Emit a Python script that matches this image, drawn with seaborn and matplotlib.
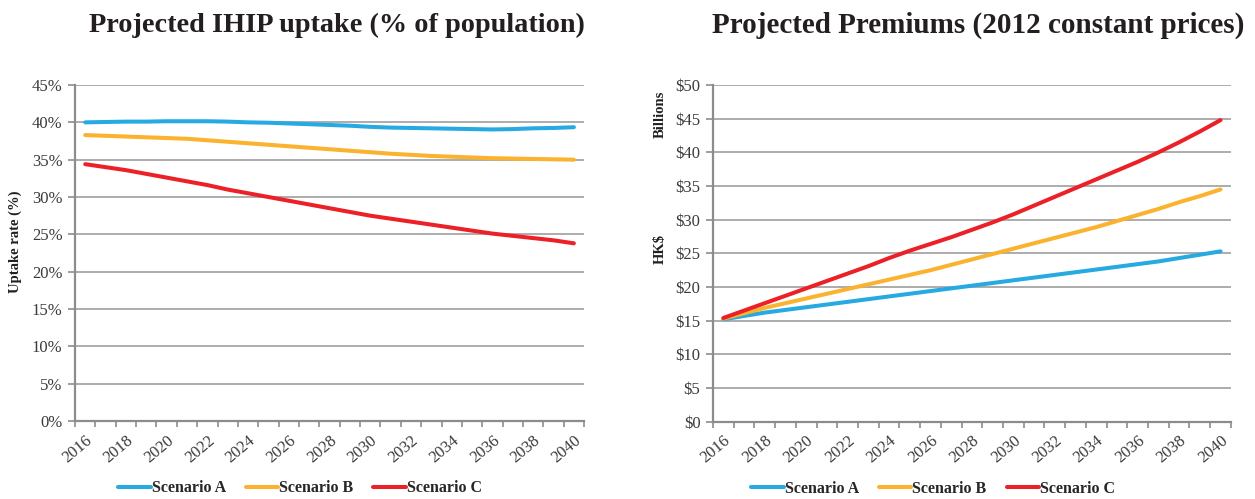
import numpy as np
import pandas as pd
import matplotlib
matplotlib.use("Agg")
import matplotlib.pyplot as plt
from matplotlib.ticker import FuncFormatter, FixedLocator
import seaborn as sns

years = list(range(2016, 2041))
scenarios = ["Scenario A", "Scenario B", "Scenario C"]

# IHIP uptake, % of population
uptake_a = [40.0, 40.05, 40.1, 40.1, 40.15, 40.15, 40.15, 40.1, 40.0, 39.95, 39.85, 39.75, 39.65,
            39.55, 39.4, 39.3, 39.25, 39.2, 39.15, 39.1, 39.05, 39.1, 39.2, 39.25, 39.35]
uptake_b = [38.3, 38.2, 38.1, 38.0, 37.9, 37.8, 37.6, 37.4, 37.2, 37.0, 36.8, 36.6, 36.4,
            36.2, 36.0, 35.8, 35.65, 35.5, 35.4, 35.3, 35.2, 35.15, 35.1, 35.05, 35.0]
uptake_c = [34.4, 34.0, 33.6, 33.1, 32.6, 32.1, 31.6, 31.0, 30.5, 30.0, 29.5, 29.0, 28.5,
            28.0, 27.5, 27.1, 26.7, 26.3, 25.9, 25.5, 25.1, 24.8, 24.5, 24.2, 23.8]

# Premiums, HK$ billions (2012 constant prices)
prem_a = [15.2, 15.7, 16.2, 16.6, 17.0, 17.4, 17.8, 18.2, 18.6, 19.0, 19.4, 19.8, 20.2,
          20.6, 21.0, 21.4, 21.8, 22.2, 22.6, 23.0, 23.4, 23.8, 24.3, 24.8, 25.3]
prem_b = [15.3, 16.1, 16.9, 17.6, 18.3, 19.0, 19.7, 20.4, 21.1, 21.8, 22.5, 23.3, 24.1,
          24.9, 25.7, 26.5, 27.3, 28.1, 28.9, 29.8, 30.7, 31.6, 32.6, 33.5, 34.5]
prem_c = [15.4, 16.5, 17.6, 18.7, 19.8, 20.9, 22.0, 23.1, 24.3, 25.4, 26.4, 27.4, 28.5,
          29.6, 30.8, 32.1, 33.4, 34.7, 36.0, 37.3, 38.6, 40.0, 41.5, 43.1, 44.8]

year_labels = [str(y) for y in years[::2]]
palette = {"Scenario A": "#26AAE1", "Scenario B": "#FBB22E", "Scenario C": "#EC2027"}


def to_long(series):
    frames = [pd.DataFrame({"year": years, "value": vals, "scenario": name})
              for name, vals in zip(scenarios, series)]
    return pd.concat(frames, ignore_index=True)


uptake_df = to_long([uptake_a, uptake_b, uptake_c])
prem_df = to_long([prem_a, prem_b, prem_c])

sns.set_theme(style="white")
plt.rcParams["font.family"] = ["Liberation Serif", "DejaVu Serif"]

fig = plt.figure(figsize=(12.55, 4.99), dpi=100)
ax1 = fig.add_axes([0.0598, 0.1563, 0.4056, 0.6733])
ax2 = fig.add_axes([0.5681, 0.1550, 0.4127, 0.6745])

grid_col = "#a6a6a6"
axis_col = "#8c8c8c"
text_col = "#3a3a3a"


def style_axis(ax, df, ymax, ystep, fmt, title, title_size, title_x, legend_x):
    sns.lineplot(data=df, x="year", y="value", hue="scenario", palette=palette,
                 linewidth=2.9, ax=ax, legend=True, estimator=None)
    ax.set_xlim(2015.5, 2040.5)
    ax.set_ylim(0, ymax)
    ax.set_yticks(np.arange(0, ymax + ystep / 2, ystep))
    ax.yaxis.set_major_formatter(FuncFormatter(fmt))
    ax.grid(axis="y", color=grid_col, linewidth=1.3)
    ax.set_axisbelow(True)
    for side in ("top", "right"):
        ax.spines[side].set_visible(False)
    for side in ("left", "bottom"):
        ax.spines[side].set_color(axis_col)
        ax.spines[side].set_linewidth(1.6)
    ax.xaxis.set_major_locator(FixedLocator(years[::2]))
    ax.set_xticklabels(year_labels, rotation=40, ha="right", va="top",
                       rotation_mode="anchor", fontsize=12, color=text_col)
    ax.xaxis.set_minor_locator(FixedLocator(np.arange(2015.5, 2041, 1.0)))
    ax.tick_params(axis="x", which="major", length=0, pad=8)
    ax.tick_params(axis="x", which="minor", length=4, width=1.2, color=axis_col,
                   direction="out", bottom=True)
    ax.tick_params(axis="y", length=5, width=1.2, color=axis_col, direction="out",
                   left=True, labelsize=12, labelcolor=text_col, pad=4)
    ax.set_xlabel("")
    ax.set_ylabel("")
    handles, labels = ax.get_legend_handles_labels()
    ax.legend(handles, labels, loc="center", bbox_to_anchor=(legend_x, -0.2),
              ncol=3, frameon=False, handlelength=2.05, handletextpad=0.05,
              columnspacing=1.25, prop={"weight": "bold", "size": 11.5})
    ax.set_title(title, fontsize=title_size, fontweight="bold", color="#231f20",
                 pad=38, x=title_x)


style_axis(ax1, uptake_df, 45, 5, lambda v, p: f"{v:.0f}%",
           "Projected IHIP uptake (% of population)", 20.3, 0.515, 0.442)
style_axis(ax2, prem_df, 50, 5, lambda v, p: f"${v:.0f}",
           "Projected Premiums (2012 constant prices)", 21, 0.513, 0.425)

fig.text(0.012, 0.515, "Uptake rate (%)", rotation=90, ha="center", va="center",
         fontsize=10.5, fontweight="bold", color="#231f20")
fig.text(0.526, 0.50, "HK$", rotation=90, ha="center", va="center",
         fontsize=10.5, fontweight="bold", color="#231f20")
fig.text(0.526, 0.77, "Billions", rotation=90, ha="center", va="center",
         fontsize=10.5, fontweight="bold", color="#231f20")

fig.savefig("out.png", dpi=100, facecolor="white")
